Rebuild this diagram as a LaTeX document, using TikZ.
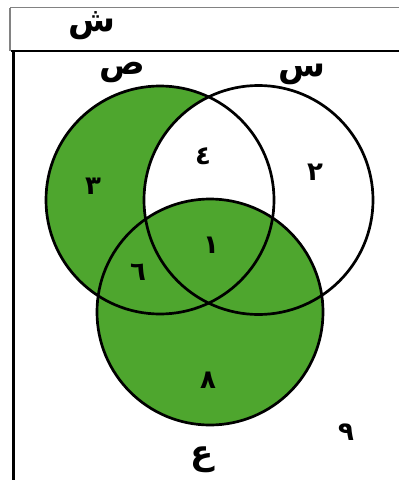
\documentclass[tikz,border=0pt]{standalone}
\usepackage{fontspec}
\TeXXeTstate=1
\newfontfamily\arabicfont[Script=Arabic]{DejaVu Sans}
\definecolor{vgreen}{RGB}{78,166,46}
\definecolor{framegray}{RGB}{130,130,130}
\tikzset{
  setcircle/.style={draw=black, line width=2.7pt},
  letterlbl/.style={font=\arabicfont\bfseries\fontsize{34}{36}\selectfont, inner sep=0pt},
  numlbl/.style={font=\arabicfont\bfseries\fontsize{26}{28}\selectfont, inner sep=0pt},
}
\begin{document}
\begin{tikzpicture}[x=1pt,y=-1pt]
\useasboundingbox (0,0) rectangle (399,480);
\fill[white] (0,0) rectangle (399,480);
% frame
\draw[framegray, line width=1.6pt] (10,7.5) -- (399,7.5);
\draw[framegray, line width=1.6pt] (10,7.5) -- (10,51);
\draw[black, line width=2.8pt] (11,51) -- (399,51);
\draw[black, line width=2.8pt] (13.5,51) -- (13.5,480);
% circles
\coordinate (cS) at (160,200);
\coordinate (cN) at (258.5,200);
\coordinate (cA) at (210,312);
\fill[vgreen] (cS) circle (114);
\begin{scope}
  \clip (cS) circle (114);
  \fill[white] (cN) circle (114.5);
\end{scope}
\fill[vgreen] (cA) circle (113);
\draw[setcircle] (cS) circle (114);
\draw[setcircle] (cN) circle (114.5);
\draw[setcircle] (cA) circle (113);
% labels
\node[letterlbl] (U) at (92,26) {\beginR ش\endR};
\node[letterlbl] (S) at (122,72) {\beginR ص\endR};
\node[letterlbl] (N) at (302,74) {\beginR س\endR};
\node[letterlbl] (A) at (202,460) {\beginR ع\endR};
\node[numlbl] (n3) at (93,186) {\beginR ٣\endR};
\node[numlbl] (n4) at (203,156) {\beginR ٤\endR};
\node[numlbl] (n2) at (315,172) {\beginR ٢\endR};
\node[numlbl] (n1) at (211,245) {\beginR ١\endR};
\node[numlbl] (n6) at (138,272) {\beginR ٦\endR};
\node[numlbl] (n8) at (208,380) {\beginR ٨\endR};
\node[numlbl] (n9) at (346,432) {\beginR ٩\endR};
\end{tikzpicture}
\end{document}
